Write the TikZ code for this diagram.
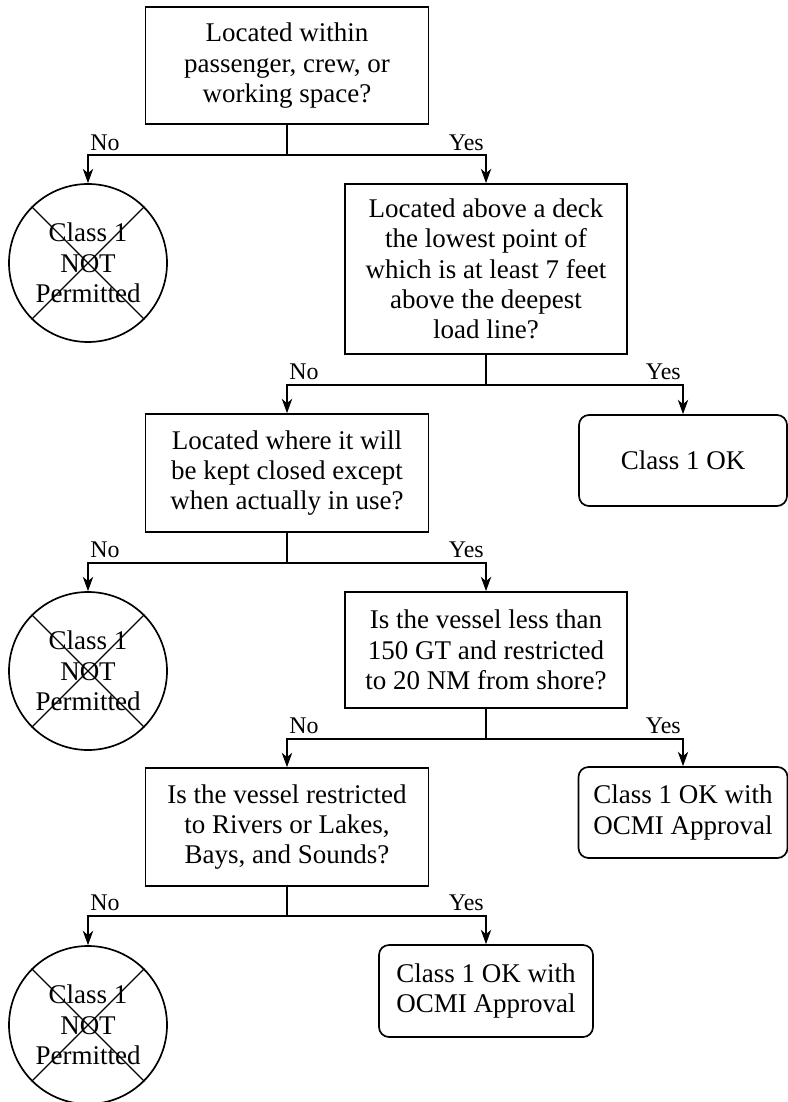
\documentclass[tikz,border=0pt]{standalone}
\usepackage{fontspec}
\setmainfont{Liberation Serif}
\usepackage{tikz}
\usetikzlibrary{arrows.meta}

\begin{document}
\begin{tikzpicture}[
	question/.style={draw, line width=1.2pt, align=center, inner sep=0pt, font=\fontsize{19.2}{21.6}\selectfont},
	verdict/.style={draw, line width=1.2pt, rounded corners=0.25cm, align=center, inner sep=0pt, font=\fontsize{19.2}{21.6}\selectfont},
	refusal/.style={draw, circle, line width=1.2pt, minimum size=3.95cm, align=center, inner sep=0pt, font=\fontsize{19.2}{21.6}\selectfont},
	link/.style={line width=1pt, -{Stealth[length=3.6mm, width=2.6mm, inset=1.1mm]}},
	answer/.style={inner xsep=0.04cm, inner ysep=0.1cm, font=\fontsize{17}{19}\selectfont}]
	\useasboundingbox (0,0) rectangle (19.7,-27.55);
	% decision boxes
	\node[question, minimum width=7.075cm, minimum height=2.925cm] (q1) at (7.175,-1.64) {Located within\\passenger, crew, or\\working space?};
	\node[question, minimum width=7.05cm, minimum height=4.25cm] (q2) at (12.15,-6.725) {Located above a deck\\the lowest point of\\which is at least 7 feet\\above the deepest\\load line?};
	\node[question, minimum width=7.075cm, minimum height=2.95cm] (q3) at (7.175,-11.825) {Located where it will\\be kept closed except\\when actually in use?};
	\node[question, minimum width=7.05cm, minimum height=2.9cm] (q4) at (12.15,-16.25) {Is the vessel less than\\150 GT and restricted\\to 20 NM from shore?};
	\node[question, minimum width=7.075cm, minimum height=2.95cm] (q5) at (7.175,-20.675) {Is the vessel restricted\\to Rivers or Lakes,\\Bays, and Sounds?};
	% outcomes
	\node[refusal] (c1) at (2.2,-6.575) {Class 1\\NOT\\Permitted};
	\node[refusal] (c2) at (2.2,-16.775) {Class 1\\NOT\\Permitted};
	\node[refusal] (c3) at (2.2,-25.625) {Class 1\\NOT\\Permitted};
	\node[verdict, minimum width=5.2cm, minimum height=2.275cm] (ok1) at (17.075,-11.5125) {Class 1 OK};
	\node[verdict, minimum width=5.225cm, minimum height=2.275cm] (ok2) at (17.075,-20.3125) {Class 1 OK with\\OCMI Approval};
	\node[verdict, minimum width=5.35cm, minimum height=2.3cm] (ok3) at (12.15,-24.775) {Class 1 OK with\\OCMI Approval};
	% crosses
	\foreach \c in {c1,c2,c3} {
		\draw[line width=0.9pt] (\c.north west) -- (\c.south east);
		\draw[line width=0.9pt] (\c.north east) -- (\c.south west);
	}
	% branches
	\draw[link] (q1.south) -- ++(0,-0.75) -| node[pos=0.5, answer, anchor=south west] {No} (c1.north);
	\draw[link] (q1.south) -- ++(0,-0.75) -| node[pos=0.5, answer, anchor=south east] {Yes} (q2.north);
	\draw[link] (q2.south) -- ++(0,-0.75) -| node[pos=0.5, answer, anchor=south west] {No} (q3.north);
	\draw[link] (q2.south) -- ++(0,-0.75) -| node[pos=0.5, answer, anchor=south east] {Yes} (ok1.north);
	\draw[link] (q3.south) -- ++(0,-0.75) -| node[pos=0.5, answer, anchor=south west] {No} (c2.north);
	\draw[link] (q3.south) -- ++(0,-0.75) -| node[pos=0.5, answer, anchor=south east] {Yes} (q4.north);
	\draw[link] (q4.south) -- ++(0,-0.75) -| node[pos=0.5, answer, anchor=south west] {No} (q5.north);
	\draw[link] (q4.south) -- ++(0,-0.75) -| node[pos=0.5, answer, anchor=south east] {Yes} (ok2.north);
	\draw[link] (q5.south) -- ++(0,-0.725) -| node[pos=0.5, answer, anchor=south west] {No} (c3.north);
	\draw[link] (q5.south) -- ++(0,-0.725) -| node[pos=0.5, answer, anchor=south east] {Yes} (ok3.north);
\end{tikzpicture}
\end{document}
